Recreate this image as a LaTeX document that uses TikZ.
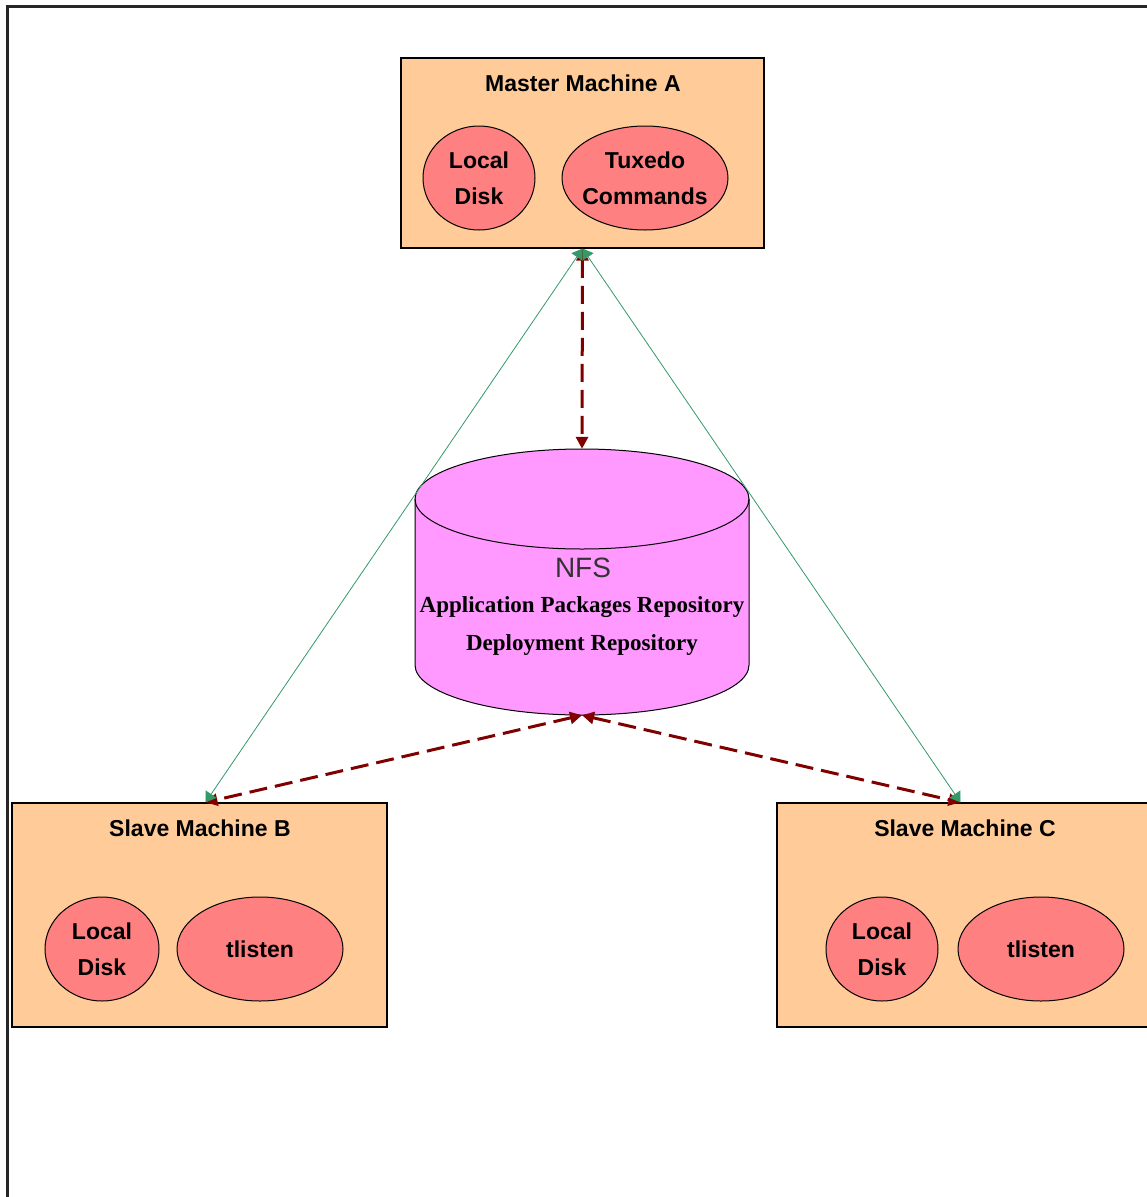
\documentclass[tikz,border=0pt]{standalone}
\usepackage{fontspec}
\setmainfont{Liberation Serif}
\setsansfont{Liberation Sans}
\usetikzlibrary{arrows.meta,calc,shapes.geometric}
\definecolor{peach}{HTML}{FFCC99}
\definecolor{salmon}{HTML}{FF8080}
\definecolor{pinkc}{HTML}{FF99FF}
\definecolor{dred}{HTML}{800000}
\definecolor{lgreen}{HTML}{339966}
\tikzset{
  machine/.style={draw=black, line width=1.2pt, fill=peach, inner sep=0pt},
  mtitle/.style={font=\sffamily\bfseries\fontsize{23}{28}\selectfont, inner sep=0pt},
  part/.style={ellipse, draw=black, line width=1pt, fill=salmon, inner sep=0pt,
    minimum height=104pt,
    label={[align=center, inner sep=0pt, font=\sffamily\bfseries\fontsize{23}{36}\selectfont]center:#1}},
  link/.style={draw=lgreen, line width=0.8pt, {Triangle[length=10pt,width=13pt,fill=lgreen]}-{Triangle[length=10pt,width=13pt,fill=lgreen]}},
  flow/.style={draw=dred, line width=3pt, dash pattern=on 18pt off 8pt, {Triangle[length=12pt,width=12pt]}-{Triangle[length=12pt,width=12pt]}},
}
\begin{document}
\begin{tikzpicture}[x=1pt, y=-1pt]
\useasboundingbox (0,0) rectangle (1147,1197);
\clip (0,0) rectangle (1147,1197);
\draw[line width=3pt, black!85] (7,1200) -- (7,6) -- (1150,6);

% Master machine A
\node[machine, minimum width=363pt, minimum height=190pt] (m) at (582.5,153) {};
\node[mtitle] (mt) at (583,83) {Master Machine A};
\node[part={Local\\Disk}, minimum width=112pt] (mld) at (479,178) {};
\node[part={Tuxedo\\Commands}, minimum width=166pt] (mtx) at (645,178) {};

% Slave machine B
\node[machine, minimum width=375pt, minimum height=224pt] (b) at (199.5,915) {};
\node[mtitle] (bt) at (200,828) {Slave Machine B};
\node[part={Local\\Disk}, minimum width=114pt] (bld) at (102,949) {};
\node[part={tlisten}, minimum width=166pt] (btl) at (260,949) {};

% Slave machine C
\node[machine, minimum width=375pt, minimum height=224pt] (c) at (964.5,915) {};
\node[mtitle] (ct) at (965,828) {Slave Machine C};
\node[part={Local\\Disk}, minimum width=112pt] (cld) at (882,949) {};
\node[part={tlisten}, minimum width=166pt] (ctl) at (1041,949) {};

% NFS cylinder
\node[minimum width=334pt, minimum height=266pt, inner sep=0pt] (nfs) at (582,582) {};
\path[draw=black, line width=1pt, fill=pinkc] (415,499) -- (415,665)
  arc[start angle=180, end angle=0, x radius=167, y radius=50] -- (749,499)
  arc[start angle=0, end angle=-180, x radius=167, y radius=50] -- cycle;
\draw[line width=1pt] (415,499) arc[start angle=180, end angle=0, x radius=167, y radius=50];
\node[font=\sffamily\fontsize{28}{30}\selectfont, inner sep=0pt, black!80] (nfst) at (583,568) {NFS};
\node[font=\bfseries\fontsize{23}{38}\selectfont, inner sep=0pt, align=center] (nfsd) at (582,626)
  {Application Packages Repository\\Deployment Repository};

% connectors
\draw[flow] (m.south) -- (nfs.north);
\draw[flow] (nfs.south) -- ($(b.north)+(6,0)$);
\draw[flow] (nfs.south) -- ($(c.north)+(-4,0)$);
\draw[link] (m.south) -- ($(b.north)+(6,0)$);
\draw[link] (m.south) -- ($(c.north)+(-4,0)$);
\end{tikzpicture}
\end{document}
